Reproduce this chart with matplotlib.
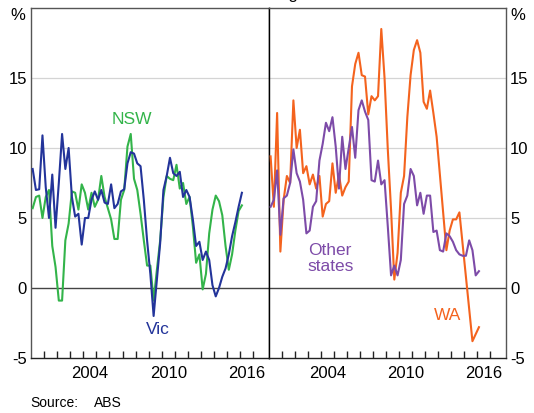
import numpy as np
import pandas as pd
import matplotlib
matplotlib.use("Agg")
import matplotlib.pyplot as plt

plt.rcParams['font.family'] = ['Liberation Sans', 'DejaVu Sans']

# quarterly, 2000Q1 - 2016Q1, year-ended growth (%)
quarters = pd.period_range('2000Q1', '2016Q1', freq='Q')
years = np.array([q.year + (q.quarter - 0.5) / 4 for q in quarters])

nsw = [5.7, 6.5, 6.6, 5.0, 6.5, 7.0, 3.0, 1.5, -0.9, -0.9, 3.4, 4.6, 6.9,
       6.8, 5.6, 7.4, 6.8, 5.6, 6.8, 5.8, 6.3, 8.0, 6.5, 5.7, 4.9, 3.5,
       3.5, 6.3, 7.0, 10.1, 11.0, 7.8, 7.0, 5.3, 3.4, 1.6, 1.6, -0.9, 1.3,
       3.4, 6.5, 8.0, 7.8, 7.7, 8.8, 7.1, 7.5, 6.0, 6.5, 4.4, 1.8, 2.4,
       -0.1, 1.0, 3.9, 5.6, 6.6, 6.2, 5.2, 3.0, 1.3, 2.4, 4.1, 5.5, 5.9]
vic = [8.5, 7.0, 7.05, 10.9, 7.2, 5.0, 8.1, 4.3, 7.5, 11.0, 8.5, 10.0, 6.5,
       5.1, 5.3, 3.1, 5.0, 5.0, 6.3, 6.9, 6.3, 7.0, 6.1, 6.0, 7.4, 5.7,
       6.0, 6.9, 7.05, 8.9, 9.7, 9.6, 8.9, 8.7, 6.3, 3.4, 1.0, -2.0, 0.6,
       3.2, 7.0, 8.0, 9.3, 8.2, 8.0, 8.3, 6.5, 7.0, 6.5, 4.9, 3.0, 3.3,
       2.0, 2.6, 2.0, 0.2, -0.6, 0.0, 0.8, 1.4, 2.4, 3.7, 4.7, 5.8, 6.8]
wa = [9.4, 5.8, 12.5, 2.6, 6.3, 8.0, 7.5, 13.4, 10.0, 11.3, 8.2, 8.7, 7.4,
      8.1, 7.1, 8.0, 5.1, 6.0, 6.2, 8.9, 6.8, 8.1, 6.6, 7.2, 7.6, 14.4,
      16.0, 16.8, 15.2, 15.1, 12.4, 13.7, 13.4, 13.7, 18.5, 15.0, 9.9, 5.6,
      0.6, 2.5, 6.8, 8.0, 12.2, 15.2, 17.0, 17.7, 16.8, 13.3, 12.8, 14.1,
      12.5, 10.8, 8.1, 5.4, 2.7, 4.1, 4.9, 4.9, 5.4, 3.1, 0.8, -1.5, -3.8,
      -3.3, -2.8]
other = [5.8, 6.3, 8.4, 3.8, 6.4, 6.6, 7.5, 9.9, 8.2, 7.6, 6.3, 3.9, 4.1,
         5.8, 6.2, 9.1, 10.3, 11.8, 11.2, 12.2, 10.1, 7.1, 10.8, 8.5, 10.0,
         11.5, 9.3, 12.7, 13.4, 12.6, 12.0, 7.7, 7.6, 9.1, 7.4, 7.7, 4.4,
         0.9, 1.6, 0.9, 2.0, 6.0, 6.6, 8.5, 8.0, 5.9, 6.8, 5.3, 6.6, 6.6,
         4.0, 4.1, 2.7, 2.6, 3.9, 3.7, 3.3, 2.7, 2.4, 2.3, 2.3, 3.4, 2.7,
         0.9, 1.2]

yticks = [-5, 0, 5, 10, 15]
year_labels = [2004, 2010, 2016]

green = '#33b44a'
blue = '#23349a'
purple = '#7d4ba8'
orange = '#f4631e'

fig = plt.figure(figsize=(5.34, 4.13), dpi=100)
ax1 = fig.add_axes([0.0581, 0.1332, 0.4457, 0.8475])
ax2 = fig.add_axes([0.5037, 0.1332, 0.4438, 0.8475])

for ax in (ax1, ax2):
    ax.set_xlim(2000, 2018.2)
    ax.set_ylim(-5, 20)
    for v in [5, 10, 15]:
        ax.axhline(v, color='#d4d4d4', lw=0.9, zorder=0)
    ax.axhline(0, color='#444444', lw=1.0, zorder=1)
    ax.set_yticks(yticks)
    ax.set_yticklabels([str(t) for t in yticks])
    ax.tick_params(axis='y', length=0, labelsize=12, pad=3)
    ax.set_xticks(range(2001, 2018))
    ax.set_xticklabels([])
    ax.set_xticks([y + 0.5 for y in year_labels], minor=True)
    ax.set_xticklabels([str(y) for y in year_labels], minor=True)
    ax.tick_params(axis='x', which='major', direction='in', length=4.8,
                   width=1, color='#222222')
    ax.tick_params(axis='x', which='minor', length=0, labelsize=12, pad=6)
    for s in ax.spines.values():
        s.set_color('#555555')
        s.set_linewidth(1)
    ax.spines['bottom'].set_color('#222222')

ax1.spines['right'].set_color('black')
ax2.spines['left'].set_color('black')
ax2.yaxis.tick_right()

ax1.plot(years, nsw, color=green, lw=1.5, zorder=3)
ax1.plot(years, vic, color=blue, lw=1.5, zorder=4)
ax2.plot(years, wa, color=orange, lw=1.5, zorder=3)
ax2.plot(years, other, color=purple, lw=1.5, zorder=4)

ax1.text(2007.7, 12.0, 'NSW', color=green, fontsize=12.5, ha='center', va='center')
ax1.text(2009.7, -3.0, 'Vic', color=blue, fontsize=12.5, ha='center', va='center')
ax2.text(2004.7, 2.1, 'Other\nstates', color=purple, fontsize=12.5,
         ha='center', va='center', linespacing=1.15)
ax2.text(2013.75, -1.95, 'WA', color=orange, fontsize=12.5, ha='center', va='center')

ax1.annotate('%', xy=(0, 19.45), xycoords=('axes fraction', 'data'),
             xytext=(-4, 0), textcoords='offset points',
             ha='right', va='center', fontsize=12)
ax2.annotate('%', xy=(1, 19.45), xycoords=('axes fraction', 'data'),
             xytext=(3, 0), textcoords='offset points',
             ha='left', va='center', fontsize=12)

# title sits above the visible area, only its descender shows
fig.text(0.503, 1.0025, 'Year-ended growth', ha='center', va='baseline', fontsize=12)

fig.text(30 / 534, 1 - 403 / 413, 'Source:', fontsize=10, va='center')
fig.text(94 / 534, 1 - 403 / 413, 'ABS', fontsize=10, va='center')

fig.savefig('out.png', dpi=100)
